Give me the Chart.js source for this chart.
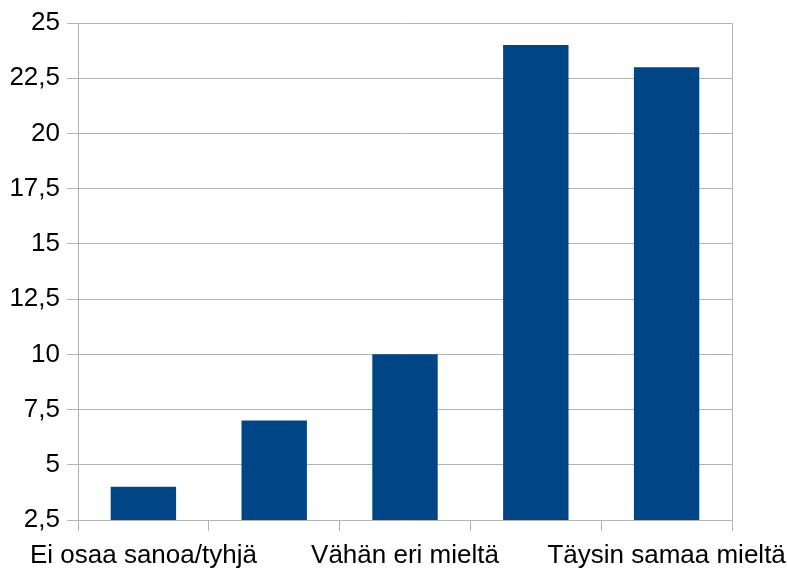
<!DOCTYPE html>
<html>
<head>
<meta charset="utf-8">
<script src="https://cdn.jsdelivr.net/npm/chart.js@4/dist/chart.umd.min.js"></script>
<style>
    html, body { margin: 0; padding: 0; background: #ffffff; }
    #wrap { width: 787px; height: 570px; }
</style>
</head>
<body>
<div id="wrap"><canvas id="chart"></canvas></div>
<script>
// vastausvaihtoehdot ja lukumäärät
const categories = ['Ei osaa sanoa/tyhjä', 'Täysin eri mieltä', 'Vähän eri mieltä', 'Vähän samaa mieltä', 'Täysin samaa mieltä'];
const counts = [4, 7, 10, 24, 23];
const yMin = 2.5;
const yMax = 25;
const yStep = 2.5;

const GRID = '#b3b3b3';
const BAR = '#004586';
const FONT = { family: "'Liberation Sans', Arial, sans-serif", size: 26 };

// oikea reuna piirtoalueelle
const frame = {
    id: 'frame',
    afterDraw(chart) {
        const { ctx, chartArea: a } = chart;
        ctx.save();
        ctx.strokeStyle = GRID;
        ctx.lineWidth = 1;
        ctx.beginPath();
        ctx.moveTo(Math.round(a.right) + 0.5, a.top);
        ctx.lineTo(Math.round(a.right) + 0.5, a.bottom);
        ctx.stroke();
        ctx.restore();
    }
};

new Chart(document.getElementById('chart'), {
    type: 'bar',
    data: {
        labels: categories,
        datasets: [{ data: counts, backgroundColor: BAR, borderWidth: 0, barPercentage: 0.5, categoryPercentage: 1.0 }]
    },
    options: {
        responsive: true, maintainAspectRatio: false, animation: false,
        layout: { padding: { top: 23, right: 55, left: 0, bottom: 0 } },
        plugins: { legend: { display: false }, tooltip: { enabled: false } },
        scales: {
            x: {
                grid: { display: true, offset: true, drawOnChartArea: false, drawTicks: true, tickLength: 11, color: GRID },
                border: { display: true, color: GRID },
                ticks: {
                    color: '#000000', font: FONT, padding: 9, autoSkip: false, maxRotation: 0, minRotation: 0,
                    callback: function (val, i) { return i % 2 ? '' : this.getLabelForValue(val); }
                },
                afterFit: (s) => { s.height = 50; s.paddingLeft = 0; s.paddingRight = 0; }
            },
            y: {
                min: yMin, max: yMax,
                grid: { color: GRID, tickLength: 11 },
                border: { display: true, color: GRID },
                ticks: {
                    stepSize: yStep, color: '#000000', font: FONT, padding: 7,
                    callback: (v) => String(v).replace('.', ',')
                },
                afterFit: (s) => { s.width = 78; }
            }
        }
    },
    plugins: [frame]
});
</script>
</body>
</html>
